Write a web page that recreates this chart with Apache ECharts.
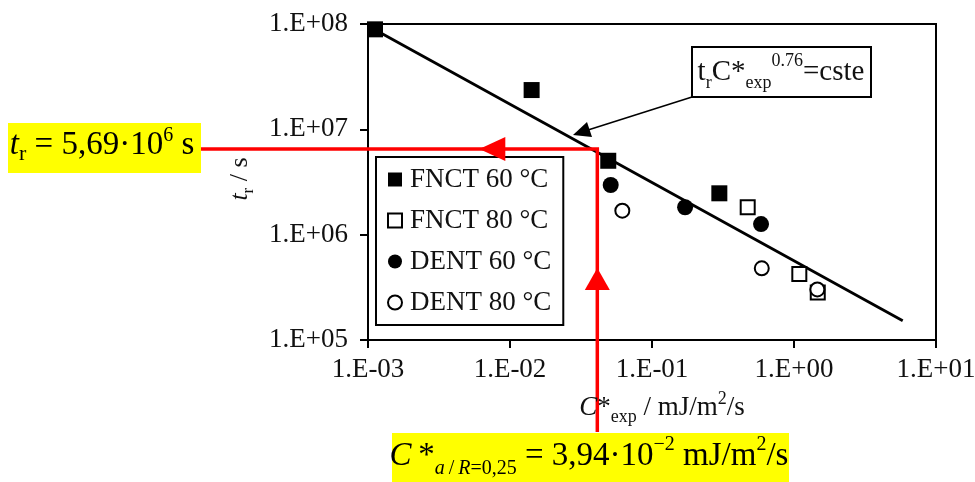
<!DOCTYPE html>
<html>
<head>
<meta charset="utf-8">
<script src="https://cdn.jsdelivr.net/npm/echarts@6/dist/echarts.min.js"></script>
<style>
html,body{margin:0;padding:0;background:#fff;}
#chart{width:975px;height:482px;}
</style>
</head>
<body>
<div id="chart"></div>
<script>
// ---- data ----
const seriesNames = ['FNCT 60 °C', 'FNCT 80 °C', 'DENT 60 °C', 'DENT 80 °C'];
const fnct60X = [0.00112, 0.0142, 0.0492, 0.298];
const fnct60Y = [8.9e7, 2.36e7, 5.03e6, 2.47e6];
const fnct80X = [0.472, 1.09, 1.47];
const fnct80Y = [1.82e6, 4.23e5, 2.83e5];
const dent60X = [0.0512, 0.171, 0.586];
const dent60Y = [2.96e6, 1.82e6, 1.26e6];
const dent80X = [0.0618, 0.593, 1.46];
const dent80Y = [1.69e6, 4.79e5, 3.02e5];
const fitX = [0.00112, 5.83];
const fitY = [8.8e7, 1.52e5];
const xTickLabels = ['1.E-03', '1.E-02', '1.E-01', '1.E+00', '1.E+01'];
const yTickLabels = ['1.E+05', '1.E+06', '1.E+07', '1.E+08'];
const annotX = [0.0412];
const annotY = [6.5e6];

const FONT = 'Liberation Serif';
const zip = (xs, ys) => xs.map((x, i) => [x, ys[i]]);

const chart = echarts.init(document.getElementById('chart'), null, {renderer: 'canvas'});

const axisCommon = {
  type: 'log', logBase: 10,
  axisLine: {show: true, lineStyle: {color: '#000', width: 2}},
  axisTick: {show: true, inside: false, length: 8, lineStyle: {color: '#000', width: 2}},
  minorTick: {show: false},
  splitLine: {show: false},
  minorSplitLine: {show: false}
};

const open = {color: '#fff', borderColor: '#000', borderWidth: 2, opacity: 1};
const filled = {color: '#000', borderColor: '#000', borderWidth: 0, opacity: 1};

const option = {
  animation: false,
  backgroundColor: '#fff',
  grid: {left: 368, right: 39, top: 24, bottom: 142, show: true, borderColor: '#000', borderWidth: 2,
         containLabel: false, outerBoundsMode: 'none'},
  xAxis: Object.assign({}, axisCommon, {
    min: 0.001, max: 10,
    axisLabel: {
      fontFamily: FONT, fontSize: 27, color: '#111', margin: 16,
      showMinLabel: true, showMaxLabel: true, hideOverlap: false,
      formatter: v => xTickLabels[Math.round(Math.log10(v)) + 3]
    }
  }),
  yAxis: Object.assign({}, axisCommon, {
    min: 1e5, max: 1e8,
    axisLabel: {
      fontFamily: FONT, fontSize: 27, color: '#111', margin: 20,
      showMinLabel: true, showMaxLabel: true,
      formatter: v => yTickLabels[Math.round(Math.log10(v)) - 5]
    }
  }),
  legend: {
    orient: 'vertical', left: 376, top: 157,
    padding: [9, 12, 9, 11], itemGap: 14, itemWidth: 14, itemHeight: 14,
    borderColor: '#000', borderWidth: 2, backgroundColor: '#fff',
    textStyle: {fontFamily: FONT, fontSize: 27, lineHeight: 26, color: '#111', padding: [0, 0, 0, 3]},
    data: [
      {name: seriesNames[0], icon: 'rect', itemStyle: filled},
      {name: seriesNames[1], icon: 'rect', itemStyle: open},
      {name: seriesNames[2], icon: 'circle', itemStyle: filled},
      {name: seriesNames[3], icon: 'circle', itemStyle: open}
    ]
  },
  series: [
    {type: 'line', data: zip(fitX, fitY), symbol: 'none', lineStyle: {color: '#000', width: 2.8, opacity: 1}, z: 2, silent: true},
    {name: seriesNames[0], type: 'scatter', data: zip(fnct60X, fnct60Y), symbol: 'rect', symbolSize: 16, itemStyle: filled, z: 3},
    {name: seriesNames[1], type: 'scatter', data: zip(fnct80X, fnct80Y), symbol: 'rect', symbolSize: 14, itemStyle: open, z: 3},
    {name: seriesNames[2], type: 'scatter', data: zip(dent60X, dent60Y), symbol: 'circle', symbolSize: 16, itemStyle: filled, z: 3},
    {name: seriesNames[3], type: 'scatter', data: zip(dent80X, dent80Y), symbol: 'circle', symbolSize: 14, itemStyle: open, z: 4},
    {
      type: 'custom', coordinateSystem: 'cartesian2d', clip: false, silent: true, z: 20,
      data: zip(annotX, annotY),
      renderItem: function (params, api) {
        const p = api.coord([api.value(0), api.value(1)]);
        const x = p[0], y = p[1];
        return {
          type: 'group',
          children: [
            {type: 'polyline', shape: {points: [[201, y], [x, y], [x, 432]]},
             style: {stroke: '#ff0000', lineWidth: 3.5, fill: null}},
            {type: 'polygon', shape: {points: [[x - 118, y], [x - 92, y - 12], [x - 92, y + 12]]},
             style: {fill: '#ff0000'}},
            {type: 'polygon', shape: {points: [[x, y + 119], [x - 12.5, y + 141], [x + 12.5, y + 141]]},
             style: {fill: '#ff0000'}}
          ]
        };
      }
    }
  ],
  graphic: [
    // y-axis title
    {type: 'text', x: 240, y: 179, rotation: Math.PI / 2, z: 30,
     style: {text: '{i|t}{sub|r}{n| / s}', align: 'center', verticalAlign: 'middle', fill: '#111',
             rich: {i: {fontFamily: FONT, fontSize: 26, fontStyle: 'italic', lineHeight: 34, fill: '#111'},
                    n: {fontFamily: FONT, fontSize: 26, lineHeight: 34, fill: '#111'},
                    sub: {fontFamily: FONT, fontSize: 17, lineHeight: 20, verticalAlign: 'bottom', fill: '#111'}}}},
    // x-axis title
    {type: 'text', x: 662, y: 408, z: 30,
     style: {text: '{i|C}{n|*}{sub|exp}{n| / mJ/m}{sup|2}{n|/s}', align: 'center', verticalAlign: 'middle', fill: '#111',
             rich: {i: {fontFamily: FONT, fontSize: 27, fontStyle: 'italic', lineHeight: 36, fill: '#111'},
                    n: {fontFamily: FONT, fontSize: 27, lineHeight: 36, fill: '#111'},
                    sub: {fontFamily: FONT, fontSize: 18, lineHeight: 22, verticalAlign: 'bottom', fill: '#111'},
                    sup: {fontFamily: FONT, fontSize: 18, lineHeight: 20, verticalAlign: 'top', fill: '#111'}}}},
    // annotation box
    {type: 'rect', shape: {x: 692, y: 47, width: 179, height: 50}, z: 30,
     style: {fill: '#fff', stroke: '#000', lineWidth: 2}},
    {type: 'text', x: 781, y: 72, z: 31,
     style: {text: '{n|t}{sub|r}{n|C*}{sub|exp}{sup|0.76}{n|=cste}', align: 'center', verticalAlign: 'middle',
             rich: {n: {fontFamily: FONT, fontSize: 29, lineHeight: 40, fill: '#111'},
                    sub: {fontFamily: FONT, fontSize: 18, lineHeight: 26, verticalAlign: 'bottom', fill: '#111'},
                    sup: {fontFamily: FONT, fontSize: 18, lineHeight: 16, verticalAlign: 'top', fill: '#111'}}}},
    {type: 'line', shape: {x1: 692, y1: 97, x2: 588, y2: 130}, z: 30,
     style: {stroke: '#000', lineWidth: 1.5}},
    {type: 'polygon', shape: {points: [[573, 135], [592, 137], [587, 122]]}, z: 30,
     style: {fill: '#000'}},
    // yellow box 1
    {type: 'rect', shape: {x: 8, y: 123, width: 193, height: 50}, z: 25, style: {fill: '#ffff00'}},
    {type: 'text', x: 102, y: 145.5, z: 26,
     style: {text: '{i|t}{sub|r}{n| = 5,69·10}{sup|6}{n| s}', align: 'center', verticalAlign: 'middle',
             rich: {i: {fontFamily: FONT, fontSize: 33, fontStyle: 'italic', lineHeight: 40, fill: '#000'},
                    n: {fontFamily: FONT, fontSize: 33, lineHeight: 40, fill: '#000'},
                    sub: {fontFamily: FONT, fontSize: 22, lineHeight: 26, verticalAlign: 'bottom', fill: '#000'},
                    sup: {fontFamily: FONT, fontSize: 20, lineHeight: 19, verticalAlign: 'top', fill: '#000'}}}},
    // yellow box 2
    {type: 'rect', shape: {x: 392, y: 433, width: 397, height: 50}, z: 25, style: {fill: '#ffff00'}},
    {type: 'text', x: 589, y: 456.5, z: 26,
     style: {text: '{i|C}{n|\u2009*}{subi|a}{subn|\u2009/\u2009}{subi|R}{subn|=0,25}{n| = 3,94·10}{sup|−2}{n| mJ/m}{sup|2}{n|/s}',
             align: 'center', verticalAlign: 'middle',
             rich: {i: {fontFamily: FONT, fontSize: 33, fontStyle: 'italic', lineHeight: 44, fill: '#000'},
                    n: {fontFamily: FONT, fontSize: 33, lineHeight: 44, fill: '#000'},
                    subi: {fontFamily: FONT, fontSize: 20, fontStyle: 'italic', lineHeight: 17, verticalAlign: 'bottom', fill: '#000'},
                    subn: {fontFamily: FONT, fontSize: 20, lineHeight: 17, verticalAlign: 'bottom', fill: '#000'},
                    sup: {fontFamily: FONT, fontSize: 20, lineHeight: 21, verticalAlign: 'top', fill: '#000'}}}}
  ]
};

chart.setOption(option);
</script>
</body>
</html>
